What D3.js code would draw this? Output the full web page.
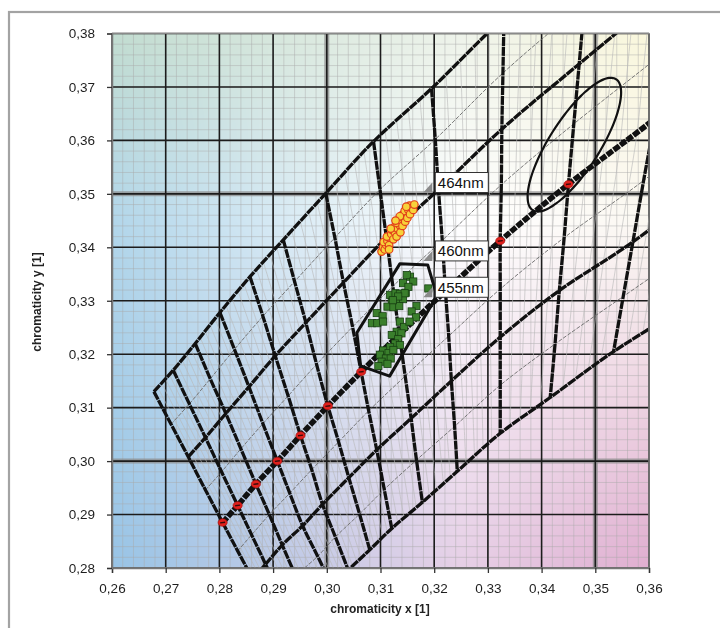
<!DOCTYPE html>
<html>
<head>
<meta charset="utf-8">
<script src="https://cdn.jsdelivr.net/npm/d3@7"></script>
<style>
body { margin: 0; background: #fff; }
#wrap { position: relative; width: 720px; height: 628px; overflow: hidden; }
#wrap canvas, #wrap svg { position: absolute; left: 0; top: 0; }
text { font-family: "Liberation Sans", Arial, sans-serif; }
</style>
</head>
<body>
<div id="wrap">
	<canvas id="bg" width="720" height="628"></canvas>
	<svg id="chart" width="720" height="628"></svg>
</div>
<script>
// axis ticks
const xTicks = [0.26, 0.27, 0.28, 0.29, 0.30, 0.31, 0.32, 0.33, 0.34, 0.35, 0.36];
const yTicks = [0.28, 0.29, 0.30, 0.31, 0.32, 0.33, 0.34, 0.35, 0.36, 0.37, 0.38];
const boldLines = [0.30, 0.35];

// background tint, sampled at a few chromaticity points
const bgXs = [0.26, 0.325, 0.36];
const bgYs = [0.38, 0.345, 0.28];
const bgColors = [
	['#c2dcd0', '#eef3ea', '#faf7dc'],
	['#b2d6ea', '#ffffff', '#fbf8f2'],
	['#98c4e6', '#e6cfe6', '#e0aed0']
];

// isotemperature lines, nodes from Duv +0.02 down to -0.02 (step 0.005)
const cctNames = ['10000K', '9500K', '9000K', '8500K', '8000K', '7500K', '7000K', '6500K', '6000K', '5500K', '5000K', '4500K', '4000K'];
const isoNodes = [
	[[0.2678, 0.3130], [0.2710, 0.3069], [0.2742, 0.3008], [0.2774, 0.2946], [0.2806, 0.2885], [0.2834, 0.2832], [0.2862, 0.2779], [0.2889, 0.2725], [0.2917, 0.2672]],
	[[0.2714, 0.3170], [0.2744, 0.3107], [0.2774, 0.3044], [0.2804, 0.2980], [0.2834, 0.2917], [0.2860, 0.2862], [0.2886, 0.2807], [0.2912, 0.2752], [0.2938, 0.2697]],
	[[0.2755, 0.3220], [0.2783, 0.3154], [0.2812, 0.3089], [0.2840, 0.3023], [0.2868, 0.2957], [0.2893, 0.2900], [0.2917, 0.2843], [0.2942, 0.2785], [0.2966, 0.2728]],
	[[0.2801, 0.3278], [0.2828, 0.3209], [0.2855, 0.3139], [0.2881, 0.3070], [0.2908, 0.3000], [0.2931, 0.2940], [0.2955, 0.2879], [0.2983, 0.2822], [0.3010, 0.2765]],
	[[0.2857, 0.3345], [0.2881, 0.3271], [0.2904, 0.3197], [0.2928, 0.3122], [0.2951, 0.3048], [0.2972, 0.2984], [0.2992, 0.2919], [0.3016, 0.2858], [0.3040, 0.2796]],
	[[0.2919, 0.3414], [0.2940, 0.3336], [0.2961, 0.3259], [0.2981, 0.3181], [0.3002, 0.3103], [0.3022, 0.3036], [0.3041, 0.2969], [0.3061, 0.2901], [0.3080, 0.2834]],
	[[0.2998, 0.3501], [0.3015, 0.3418], [0.3031, 0.3334], [0.3048, 0.3251], [0.3064, 0.3167], [0.3078, 0.3094], [0.3093, 0.3021], [0.3107, 0.2947], [0.3121, 0.2874]],
	[[0.3087, 0.3598], [0.3099, 0.3508], [0.3111, 0.3418], [0.3123, 0.3327], [0.3135, 0.3237], [0.3146, 0.3159], [0.3157, 0.3080], [0.3167, 0.3002], [0.3178, 0.2923]],
	[[0.3195, 0.3697], [0.3202, 0.3602], [0.3208, 0.3508], [0.3215, 0.3413], [0.3221, 0.3318], [0.3227, 0.3234], [0.3232, 0.3150], [0.3238, 0.3065], [0.3243, 0.2981]],
	[[0.3330, 0.3830], [0.3328, 0.3726], [0.3326, 0.3621], [0.3325, 0.3517], [0.3323, 0.3412], [0.3323, 0.3322], [0.3323, 0.3232], [0.3323, 0.3142], [0.3323, 0.3052]],
	[[0.3490, 0.3968], [0.3480, 0.3856], [0.3470, 0.3743], [0.3460, 0.3631], [0.3450, 0.3518], [0.3442, 0.3418], [0.3433, 0.3319], [0.3425, 0.3219], [0.3416, 0.3119]],
	[[0.3660, 0.4100], [0.3648, 0.3990], [0.3635, 0.3880], [0.3622, 0.3760], [0.3610, 0.3640], [0.3590, 0.3525], [0.3570, 0.3410], [0.3552, 0.3308], [0.3534, 0.3205]],
	[[0.3800, 0.4230], [0.3785, 0.4110], [0.3770, 0.3990], [0.3755, 0.3870], [0.3737, 0.3750], [0.3718, 0.3630], [0.3700, 0.3510], [0.3685, 0.3400], [0.3670, 0.3290]]
];
// red markers on the Planckian locus (10000K .. 5000K)
const locusMarkIdx = [0, 1, 2, 3, 4, 5, 6, 7, 8, 9, 10];
// fine isotemperature lines between two drawn ones (like minor gridlines of the mesh)
const fineStepsPerCell = 5;

// tolerance ellipse
const ellipseCenter = [0.3461, 0.3592];
const ellipseAxes = [0.0145, 0.0047];
const ellipseAngle = 57.7;

// tolerance polygon around the measured LEDs
const polygonPts = [[0.3136, 0.3369], [0.3188, 0.3367], [0.3205, 0.3309], [0.3117, 0.3159], [0.3063, 0.3178], [0.3056, 0.3240]];

// measured chromaticities, group 1 (squares)
const squaresX = [0.3118, 0.3128, 0.3136, 0.3147, 0.3121, 0.3131, 0.3142, 0.3113, 0.3124, 0.3135, 0.3167, 0.3158, 0.3166, 0.3093, 0.3104, 0.3084,
	0.3094, 0.3105, 0.3136, 0.3144, 0.3154, 0.3130, 0.3139, 0.3121, 0.3133, 0.3127, 0.3118, 0.3136, 0.3105, 0.3115, 0.3124, 0.3099, 0.3110, 0.3119,
	0.3102, 0.3096, 0.3113, 0.3155, 0.3149, 0.3161, 0.3142, 0.3152, 0.3145, 0.3133, 0.3189, 0.3123];
const squaresY = [0.3311, 0.3314, 0.3313, 0.3315, 0.3298, 0.3301, 0.3303, 0.3289, 0.3288, 0.3290, 0.3290, 0.3280, 0.3269, 0.3277, 0.3271, 0.3258,
	0.3258, 0.3261, 0.3261, 0.3251, 0.3261, 0.3242, 0.3239, 0.3236, 0.3228, 0.3220, 0.3213, 0.3217, 0.3207, 0.3202, 0.3208, 0.3199, 0.3192, 0.3192,
	0.3186, 0.3178, 0.3182, 0.3345, 0.3348, 0.3336, 0.3333, 0.3326, 0.3314, 0.3308, 0.3323, 0.3301];

// measured chromaticities, group 2 (circles)
const circlesX = [0.3102, 0.3105, 0.3108, 0.3110, 0.3106, 0.3113, 0.3116, 0.3118, 0.3112, 0.3120, 0.3124, 0.3122, 0.3127, 0.3130, 0.3126, 0.3132, 0.3135, 0.3130, 0.3137,
	0.3138, 0.3141, 0.3143, 0.3140, 0.3146, 0.3148, 0.3145, 0.3150, 0.3152, 0.3155, 0.3158, 0.3154, 0.3161, 0.3163, 0.3148, 0.3136, 0.3128, 0.3119, 0.3116];
const circlesY = [0.3392, 0.3400, 0.3396, 0.3405, 0.3410, 0.3412, 0.3404, 0.3418, 0.3420, 0.3425, 0.3415, 0.3432, 0.3428, 0.3420, 0.3438, 0.3435, 0.3442, 0.3446, 0.3428,
	0.3450, 0.3440, 0.3455, 0.3460, 0.3448, 0.3462, 0.3468, 0.3455, 0.3470, 0.3462, 0.3475, 0.3478, 0.3470, 0.3480, 0.3476, 0.3458, 0.3450, 0.3435, 0.3396];

// dominant wavelength markers
const wlLabels = ['464nm', '460nm', '455nm'];
const wlX = [0.3189, 0.3189, 0.3189];
const wlY = [0.3510, 0.3382, 0.3314];

const ChromaChart = {
	x: d3.scaleLinear().domain([0.26, 0.36]).range([112, 649]),
	y: d3.scaleLinear().domain([0.28, 0.38]).range([568, 33.5]),

	drawBackground: function() {
		var x = this.x, y = this.y;
		var ctx = document.getElementById('bg').getContext('2d');
		ctx.fillStyle = '#fff';
		ctx.fillRect(0, 0, 720, 628);
		var x0 = Math.round(x(0.26)), x1 = Math.round(x(0.36));
		var y0 = Math.round(y(0.38)), y1 = Math.round(y(0.28));
		var img = ctx.getImageData(x0, y0, x1 - x0, y1 - y0);
		var cols = bgColors.map(function(row) { return row.map(function(c) { return d3.rgb(c); }); });
		var seg = function(arr, v, desc) {
			for (var i = 0; i < arr.length - 1; i++) {
				var a = arr[i], b = arr[i + 1];
				if ((!desc && v <= b) || (desc && v >= b)) return [i, (v - a) / (b - a)];
			}
			return [arr.length - 2, 1];
		};
		for (var py = y0; py < y1; py++) {
			var cy = y.invert(py + 0.5);
			var sj = seg(bgYs, cy, true);
			for (var px = x0; px < x1; px++) {
				var cx = x.invert(px + 0.5);
				var si = seg(bgXs, cx, false);
				var i = si[0], tx = Math.max(0, Math.min(1, si[1]));
				var j = sj[0], ty = Math.max(0, Math.min(1, sj[1]));
				var c00 = cols[j][i], c01 = cols[j][i + 1], c10 = cols[j + 1][i], c11 = cols[j + 1][i + 1];
				var k = ((py - y0) * (x1 - x0) + (px - x0)) * 4;
				['r', 'g', 'b'].forEach(function(ch, n) {
					var top = c00[ch] + (c01[ch] - c00[ch]) * tx;
					var bot = c10[ch] + (c11[ch] - c10[ch]) * tx;
					img.data[k + n] = top + (bot - top) * ty;
				});
				img.data[k + 3] = 255;
			}
		}
		ctx.putImageData(img, x0, y0);
	},

	drawGrid: function(svg) {
		var x = this.x, y = this.y;
		var g = svg.append('g').attr('class', 'grid');
		var minorX = x.ticks(50), minorY = y.ticks(50);

		g.selectAll('line.minor-x').data(minorX).enter().append('line')
			.attr('x1', d => x(d)).attr('x2', d => x(d)).attr('y1', y(0.28)).attr('y2', y(0.38))
			.attr('stroke', '#a9a9a9').attr('stroke-opacity', 0.45).attr('stroke-width', 1);
		g.selectAll('line.minor-y').data(minorY).enter().append('line')
			.attr('y1', d => y(d)).attr('y2', d => y(d)).attr('x1', x(0.26)).attr('x2', x(0.36))
			.attr('stroke', '#a9a9a9').attr('stroke-opacity', 0.45).attr('stroke-width', 1);

		// wide grey bands on 0.30 / 0.35
		g.selectAll('line.band-x').data(boldLines).enter().append('line')
			.attr('x1', d => x(d)).attr('x2', d => x(d)).attr('y1', y(0.28)).attr('y2', y(0.38))
			.attr('stroke', '#8c8c8c').attr('stroke-opacity', 0.75).attr('stroke-width', 5);
		g.selectAll('line.band-y').data(boldLines).enter().append('line')
			.attr('y1', d => y(d)).attr('y2', d => y(d)).attr('x1', x(0.26)).attr('x2', x(0.36))
			.attr('stroke', '#8c8c8c').attr('stroke-opacity', 0.75).attr('stroke-width', 5);

		g.selectAll('line.major-x').data(xTicks).enter().append('line')
			.attr('x1', d => x(d)).attr('x2', d => x(d)).attr('y1', y(0.28)).attr('y2', y(0.38))
			.attr('stroke', '#1c1c1c').attr('stroke-width', 1.6);
		g.selectAll('line.major-y').data(yTicks).enter().append('line')
			.attr('y1', d => y(d)).attr('y2', d => y(d)).attr('x1', x(0.26)).attr('x2', x(0.36))
			.attr('stroke', '#1c1c1c').attr('stroke-width', 1.6);
	},

	drawMesh: function(plot) {
		var x = this.x, y = this.y;
		var line = d3.line().x(d => x(d[0])).y(d => y(d[1])).curve(d3.curveCatmullRom.alpha(0.5));
		var nCols = isoNodes[0].length;
		var duvLines = d3.range(nCols).map(function(c) {
			return { idx: c, pts: isoNodes.map(function(row) { return row[c]; }) };
		});

		// fine isotemperature lines, placed inside each mesh cell
		var fine = [];
		for (var r = 0; r < isoNodes.length - 1; r++)
			for (var s = 1; s < fineStepsPerCell; s++) {
				var f = s / fineStepsPerCell;
				fine.push(isoNodes[r].map(function(p, c) {
					var q = isoNodes[r + 1][c];
					return [p[0] + (q[0] - p[0]) * f, p[1] + (q[1] - p[1]) * f];
				}));
			}
		plot.selectAll('path.iso-fine').data(fine).enter().append('path')
			.attr('d', d => line(d)).attr('fill', 'none')
			.attr('stroke', '#b8b8b8').attr('stroke-opacity', 0.6).attr('stroke-width', 1);

		// thin intermediate Duv lines
		plot.selectAll('path.duv-thin').data(duvLines.filter(d => d.idx % 2 == 1)).enter().append('path')
			.attr('d', d => line(d.pts)).attr('fill', 'none')
			.attr('stroke', '#6a6a6a').attr('stroke-width', 0.9).attr('stroke-dasharray', '4,1.5');

		plot.selectAll('path.iso').data(isoNodes).enter().append('path')
			.attr('d', d => line(d)).attr('fill', 'none')
			.attr('stroke', '#111').attr('stroke-width', 3.3).attr('stroke-dasharray', '9,0.8');

		plot.selectAll('path.duv-thick').data(duvLines.filter(d => d.idx % 2 == 0 && d.idx != 4)).enter().append('path')
			.attr('d', d => line(d.pts)).attr('fill', 'none')
			.attr('stroke', '#111').attr('stroke-width', 3.3).attr('stroke-dasharray', '9,0.8');

		// Planckian locus
		plot.append('path').datum(duvLines[4].pts)
			.attr('d', line).attr('fill', 'none')
			.attr('stroke', '#111').attr('stroke-width', 5.5).attr('stroke-dasharray', '7,1.2');

		plot.selectAll('ellipse.locus-mark').data(locusMarkIdx).enter().append('ellipse')
			.attr('cx', d => x(isoNodes[d][4][0])).attr('cy', d => y(isoNodes[d][4][1]))
			.attr('rx', 4.6).attr('ry', 3.8)
			.attr('fill', '#e0201c').attr('stroke', '#a01010').attr('stroke-width', 0.6);
		plot.selectAll('line.locus-mark-core').data(locusMarkIdx).enter().append('line')
			.attr('x1', d => x(isoNodes[d][4][0]) - 2.5).attr('x2', d => x(isoNodes[d][4][0]) + 2.5)
			.attr('y1', d => y(isoNodes[d][4][1]) + 0.3).attr('y2', d => y(isoNodes[d][4][1]) - 0.3)
			.attr('stroke', '#3a0a0a').attr('stroke-width', 1.4);
	},

	drawTolerances: function(plot) {
		var x = this.x, y = this.y;
		var a = ellipseAxes[0], b = ellipseAxes[1], th = ellipseAngle * Math.PI / 180;
		var ell = d3.range(0, 361, 5).map(function(deg) {
			var t = deg * Math.PI / 180;
			return [ellipseCenter[0] + a * Math.cos(t) * Math.cos(th) - b * Math.sin(t) * Math.sin(th),
					ellipseCenter[1] + a * Math.cos(t) * Math.sin(th) + b * Math.sin(t) * Math.cos(th)];
		});
		plot.append('path').datum(ell)
			.attr('d', d3.line().x(d => x(d[0])).y(d => y(d[1])).curve(d3.curveCardinalClosed))
			.attr('fill', 'none').attr('stroke', '#111').attr('stroke-width', 2.2);

		plot.append('path').datum(polygonPts)
			.attr('d', d3.line().x(d => x(d[0])).y(d => y(d[1])).curve(d3.curveLinearClosed))
			.attr('fill', 'none').attr('stroke', '#111').attr('stroke-width', 3)
			.attr('stroke-linejoin', 'round');
	},

	drawPoints: function(plot) {
		var x = this.x, y = this.y;
		plot.selectAll('rect.sq').data(d3.range(squaresX.length)).enter().append('rect')
			.attr('x', i => x(squaresX[i]) - 3.6).attr('y', i => y(squaresY[i]) - 3.6)
			.attr('width', 7.2).attr('height', 7.2)
			.attr('fill', '#3a7f2c').attr('stroke', '#173f12').attr('stroke-width', 0.8);

		plot.selectAll('circle.pt').data(d3.range(circlesX.length)).enter().append('circle')
			.attr('cx', i => x(circlesX[i])).attr('cy', i => y(circlesY[i])).attr('r', 3.8)
			.attr('fill', '#f7d23a').attr('stroke', '#e2401a').attr('stroke-width', 1.2);
	},

	drawLabels: function(plot) {
		var x = this.x, y = this.y;
		var g = plot.selectAll('g.wl').data(d3.range(wlLabels.length)).enter().append('g')
			.attr('class', 'wl')
			.attr('transform', i => 'translate(' + x(wlX[i]) + ',' + y(wlY[i]) + ')');
		g.append('path').attr('d', 'M-5,4 L4,-6 L4,4 Z').attr('fill', '#8a8a8a');
		g.append('rect').attr('x', 7).attr('y', -16).attr('width', 53).attr('height', 20)
			.attr('fill', '#fff').attr('stroke', '#333').attr('stroke-width', 1);
		g.append('text').attr('x', 9.5).attr('y', -0.5).text(i => wlLabels[i])
			.attr('font-size', 15).attr('fill', '#111');
	},

	drawAxes: function(svg) {
		var x = this.x, y = this.y;
		var fmt = d => d3.format('.2f')(d).replace('.', ',');
		var gx = svg.append('g').attr('transform', 'translate(0,' + y(0.28) + ')')
			.call(d3.axisBottom(x).tickValues(xTicks).tickFormat(fmt).tickSize(5).tickPadding(10));
		var gy = svg.append('g').attr('transform', 'translate(' + x(0.26) + ',0)')
			.call(d3.axisLeft(y).tickValues(yTicks).tickFormat(fmt).tickSize(5).tickPadding(12));
		[gx, gy].forEach(function(g) {
			g.select('.domain').attr('stroke', '#777').attr('stroke-width', 1.5);
			g.selectAll('.tick line').attr('stroke', '#333').attr('stroke-width', 1.3);
			g.selectAll('.tick text').attr('font-size', 13.5).attr('fill', '#1e1e1e')
				.attr('font-family', '"Liberation Sans", Arial, sans-serif');
		});

		svg.append('text').attr('x', 380).attr('y', 613).attr('text-anchor', 'middle')
			.attr('font-size', 12).attr('font-weight', 'bold').attr('fill', '#222')
			.text('chromaticity x [1]');
		svg.append('text').attr('transform', 'translate(41,302) rotate(-90)').attr('text-anchor', 'middle')
			.attr('font-size', 12).attr('font-weight', 'bold').attr('fill', '#222')
			.text('chromaticity y [1]');
	},

	draw: function() {
		var x = this.x, y = this.y;
		var svg = d3.select('#chart');
		this.drawBackground();

		svg.append('defs').append('clipPath').attr('id', 'plot-clip')
			.append('rect').attr('x', x(0.26)).attr('y', y(0.38))
			.attr('width', x(0.36) - x(0.26)).attr('height', y(0.28) - y(0.38));

		this.drawGrid(svg);
		var plot = svg.append('g').attr('clip-path', 'url(#plot-clip)');
		this.drawMesh(plot);
		this.drawTolerances(plot);
		this.drawPoints(plot);
		this.drawLabels(svg);

		svg.append('rect').attr('x', x(0.26)).attr('y', y(0.38))
			.attr('width', x(0.36) - x(0.26)).attr('height', y(0.28) - y(0.38))
			.attr('fill', 'none').attr('stroke', '#8a8a8a').attr('stroke-width', 1.2);
		this.drawAxes(svg);

		// outer frame
		svg.append('rect').attr('x', 9).attr('y', 12).attr('width', 760).attr('height', 700)
			.attr('fill', 'none').attr('stroke', '#a3a3a3').attr('stroke-width', 2.2);
	}
};

ChromaChart.draw();
</script>
</body>
</html>
